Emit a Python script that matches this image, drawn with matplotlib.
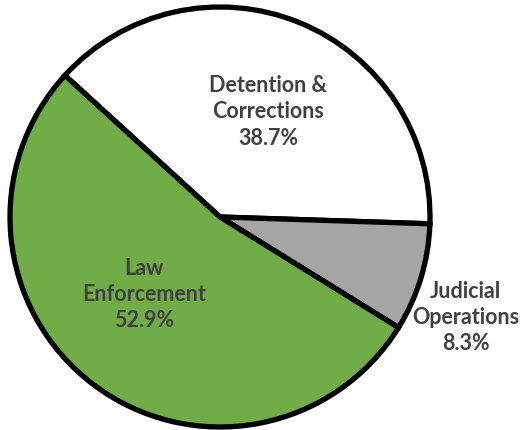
import matplotlib.pyplot as plt

labels = ['Detention &\nCorrections', 'Judicial\nOperations', 'Law\nEnforcement']
shares = [38.7, 8.3, 52.9]
colors = ['#FFFFFF', '#A5A5A5', '#70AD47']
# label anchor points in pie units (radius = 1)
label_xy = [(0.23, 0.50), (1.17, -0.48), (-0.36, -0.37)]

plt.rcParams['font.family'] = ['Lato', 'DejaVu Sans']

fig = plt.figure(figsize=(5.28, 4.3), dpi=100)
ax = fig.add_axes([10 / 528, 3 / 430, 420 / 528, 420 / 430])

wedges, _ = ax.pie(shares, colors=colors, startangle=137.6, counterclock=False,
                   wedgeprops=dict(edgecolor='black', linewidth=3.8))
for w in wedges:
    w.set_clip_on(False)

for lab, val, (x, y) in zip(labels, shares, label_xy):
    ax.text(x, y, f'{lab}\n{val:.1f}%', ha='center', va='center',
            fontsize=15.5, fontweight='bold', color='#404040', linespacing=1.3)

ax.set_xlim(-1, 1)
ax.set_ylim(-1, 1)
ax.set_aspect('equal')
ax.axis('off')
fig.savefig('out.png', dpi=100)
